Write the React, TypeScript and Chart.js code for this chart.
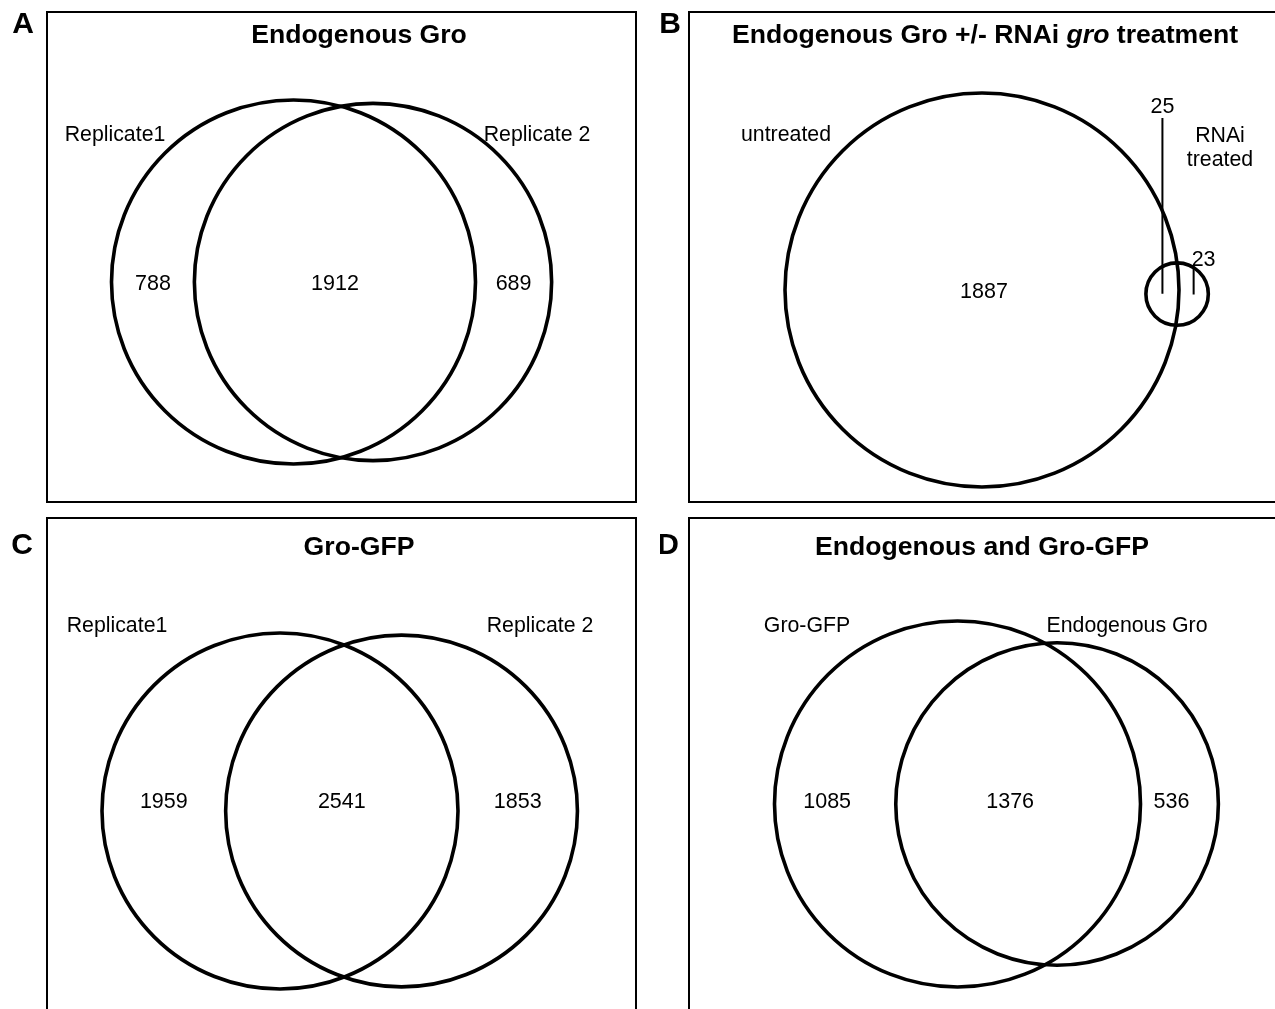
import React, { useEffect, useRef } from "react";
import { Chart, registerables } from "chart.js";

Chart.register(...registerables);

// ---------- data ----------
const panelLetters = ["A", "B", "C", "D"];
const titleA = [{ t: "Endogenous Gro", italic: false }];
const titleB = [
  { t: "Endogenous Gro +/- RNAi ", italic: false },
  { t: "gro", italic: true },
  { t: " treatment", italic: false },
];
const titleC = [{ t: "Gro-GFP", italic: false }];
const titleD = [{ t: "Endogenous and Gro-GFP", italic: false }];

// set names (left, right); "\n" splits lines
const setsA = ["Replicate1", "Replicate 2"];
const setsB = ["untreated", "RNAi\ntreated"];
const setsC = ["Replicate1", "Replicate 2"];
const setsD = ["Gro-GFP", "Endogenous Gro"];

// counts: [only left, overlap, only right]
const countsA = [788, 1912, 689];
const countsB = [1887, 25, 23];
const countsC = [1959, 2541, 1853];
const countsD = [1085, 1376, 536];

const titles = [titleA, titleB, titleC, titleD];
const setNames = [setsA, setsB, setsC, setsD];
const counts = [countsA, countsB, countsC, countsD];

// ---------- layout (page pixels) ----------
type Layout = {
  canvas: number[];
  box: number[];
  letter: number[];
  title: number[];
  anchor: number[];
  r1: number;
  angle: number;
  setLabels: number[][];
  leftAtCenter: boolean;
  labelDx: number;
  labelDy: number;
  leaders?: { overlapTop: number; overlapLabelY: number; rightTop: number; rightLabelY: number };
};

const layouts: Layout[] = [
  {
    canvas: [0, 0, 660, 512],
    box: [47, 12, 636, 502],
    letter: [23, 22],
    title: [359, 33],
    anchor: [293.5, 282],
    r1: 182,
    angle: 0,
    setLabels: [[115, 133], [537, 133]],
    leftAtCenter: false,
    labelDx: 0,
    labelDy: 0,
  },
  {
    canvas: [660, 0, 615, 512],
    box: [689, 12, 1320, 502],
    letter: [670, 22],
    title: [985, 33],
    anchor: [982, 290],
    r1: 197,
    angle: 1.2,
    setLabels: [[786, 133], [1220, 134]],
    leftAtCenter: true,
    labelDx: 2,
    labelDy: 0,
    leaders: { overlapTop: 118, overlapLabelY: 105, rightTop: 267, rightLabelY: 258 },
  },
  {
    canvas: [0, 512, 660, 497],
    box: [47, 518, 636, 1040],
    letter: [22, 543],
    title: [359, 545],
    anchor: [280, 811],
    r1: 178,
    angle: 0,
    setLabels: [[117, 624], [540, 624]],
    leftAtCenter: false,
    labelDx: 0,
    labelDy: -11,
  },
  {
    canvas: [660, 512, 615, 497],
    box: [689, 518, 1320, 1040],
    letter: [668, 543],
    title: [982, 545],
    anchor: [957.5, 804],
    r1: 183,
    angle: 0,
    setLabels: [[807, 624], [1127, 624]],
    leftAtCenter: false,
    labelDx: -8,
    labelDy: -4,
  },
];

const FONT = '"Liberation Sans", Arial, Helvetica, sans-serif';
const TITLE_SIZE = 26.6;
const LETTER_SIZE = 30;
const LABEL_SIZE = 21.3;
const NUM_SIZE = 21.5;

// ---------- geometry ----------
function lensArea(d: number, r1: number, r2: number) {
  if (d >= r1 + r2) return 0;
  if (d <= Math.abs(r1 - r2)) return Math.PI * Math.min(r1, r2) ** 2;
  const a = r1 * r1 * Math.acos((d * d + r1 * r1 - r2 * r2) / (2 * d * r1));
  const b = r2 * r2 * Math.acos((d * d + r2 * r2 - r1 * r1) / (2 * d * r2));
  const c = 0.5 * Math.sqrt((-d + r1 + r2) * (d + r1 - r2) * (d - r1 + r2) * (d + r1 + r2));
  return a + b - c;
}
function solveDistance(r1: number, r2: number, overlap: number) {
  let lo = Math.abs(r1 - r2) + 1e-9;
  let hi = r1 + r2;
  for (let i = 0; i < 200; i++) {
    const mid = (lo + hi) / 2;
    if (lensArea(mid, r1, r2) > overlap) lo = mid;
    else hi = mid;
  }
  return (lo + hi) / 2;
}

function drawText(
  ctx: CanvasRenderingContext2D,
  s: string,
  x: number,
  yc: number,
  size: number,
  bold: boolean,
  align: CanvasTextAlign = "center"
) {
  ctx.font = `${bold ? "bold " : ""}${size}px ${FONT}`;
  ctx.textAlign = align;
  ctx.textBaseline = "alphabetic";
  ctx.fillStyle = "#000";
  ctx.fillText(s, x, yc + size * 0.358);
}

function Panel({ idx }: { idx: number }) {
  const ref = useRef<HTMLCanvasElement>(null);
  const L = layouts[idx];
  const [ox, oy, cw, ch] = L.canvas;

  useEffect(() => {
    const c = counts[idx];
    const t1 = c[0] + c[1];
    const t2 = c[1] + c[2];
    const R1 = Math.sqrt(t1 / Math.PI);
    const R2 = Math.sqrt(t2 / Math.PI);
    const d = solveDistance(R1, R2, c[1]);
    const th = (L.angle * Math.PI) / 180;
    const k = L.r1 / R1; // pixels per unit, shared by both axes
    const circles = [
      { x: 0, y: 0, R: R1, r: R1 * k },
      { x: d * Math.cos(th), y: -d * Math.sin(th), R: R2, r: R2 * k },
    ];
    const ax = L.anchor[0] - ox;
    const ay = L.anchor[1] - oy;

    const decor = {
      id: "vennDecor" + idx,
      afterDraw(chart: any) {
        const ctx: CanvasRenderingContext2D = chart.ctx;
        const xs = chart.scales.x;
        const ys = chart.scales.y;
        const P = (x: number, y: number) => [xs.getPixelForValue(x), ys.getPixelForValue(y)];
        ctx.save();
        ctx.strokeStyle = "#000";
        ctx.lineWidth = 2;
        ctx.strokeRect(L.box[0] - ox, L.box[1] - oy, L.box[2] - L.box[0], L.box[3] - L.box[1]);
        drawText(ctx, panelLetters[idx], L.letter[0] - ox, L.letter[1] - oy, LETTER_SIZE, true);
        const segs = titles[idx];
        const fontOf = (it: boolean) => `${it ? "italic " : ""}bold ${TITLE_SIZE}px ${FONT}`;
        let total = 0;
        const widths = segs.map((sg) => {
          ctx.font = fontOf(sg.italic);
          const w = ctx.measureText(sg.t).width;
          total += w;
          return w;
        });
        let tx = L.title[0] - ox - total / 2;
        segs.forEach((sg, i) => {
          ctx.font = fontOf(sg.italic);
          ctx.textAlign = "left";
          ctx.textBaseline = "alphabetic";
          ctx.fillStyle = "#000";
          ctx.fillText(sg.t, tx, L.title[1] - oy + TITLE_SIZE * 0.358);
          tx += widths[i];
        });
        setNames[idx].forEach((nm, i) => {
          nm.split("\n").forEach((ln, j) => {
            drawText(ctx, ln, L.setLabels[i][0] - ox, L.setLabels[i][1] - oy + j * 24, LABEL_SIZE, false);
          });
        });
        const [c1, c2] = circles;
        const ux = (c2.x - c1.x) / d;
        const uy = (c2.y - c1.y) / d;
        const lL = [c1.x - c1.R * ux, c1.y - c1.R * uy];
        const lR = [c1.x + c1.R * ux, c1.y + c1.R * uy];
        const rL = [c2.x - c2.R * ux, c2.y - c2.R * uy];
        const rR = [c2.x + c2.R * ux, c2.y + c2.R * uy];
        const mid = (a: number[], b: number[]) => [(a[0] + b[0]) / 2, (a[1] + b[1]) / 2];
        const pLeft = L.leftAtCenter ? [c1.x, c1.y] : mid(lL, rL);
        const pOv = mid(rL, lR);
        const pRight = mid(lR, rR);
        const [plx, ply] = P(pLeft[0], pLeft[1]);
        drawText(ctx, String(c[0]), plx + L.labelDx, ply + L.labelDy, NUM_SIZE, false);
        const [pox, poy] = P(pOv[0], pOv[1]);
        const [prx, pry] = P(pRight[0], pRight[1]);
        if (L.leaders) {
          const ld = L.leaders;
          ctx.strokeStyle = "#000";
          ctx.lineWidth = 2;
          ctx.beginPath();
          ctx.moveTo(pox, poy);
          ctx.lineTo(pox, ld.overlapTop - oy);
          ctx.moveTo(prx, pry);
          ctx.lineTo(prx, ld.rightTop - oy);
          ctx.stroke();
          drawText(ctx, String(c[1]), pox, ld.overlapLabelY - oy, NUM_SIZE, false);
          drawText(ctx, String(c[2]), prx - 2, ld.rightLabelY - oy, NUM_SIZE, false, "left");
        } else {
          drawText(ctx, String(c[1]), pox + L.labelDx, poy + L.labelDy, NUM_SIZE, false);
          drawText(ctx, String(c[2]), prx + L.labelDx, pry + L.labelDy, NUM_SIZE, false);
        }
        ctx.restore();
      },
    };

    const chart = new Chart(ref.current as HTMLCanvasElement, {
      type: "bubble",
      data: {
        datasets: [
          {
            data: circles as any,
            backgroundColor: "rgba(0,0,0,0)",
            borderColor: "#000000",
            borderWidth: 3.6,
            hoverBorderWidth: 3.6,
            hoverRadius: 0,
            clip: false as any,
          } as any,
        ],
      },
      options: {
        animation: false,
        responsive: false,
        events: [],
        layout: { padding: 0, autoPadding: false } as any,
        plugins: { legend: { display: false }, tooltip: { enabled: false }, title: { display: false } },
        scales: {
          x: { type: "linear", display: false, min: -ax / k, max: (cw - ax) / k },
          y: { type: "linear", display: false, min: -(ch - ay) / k, max: ay / k },
        },
      },
      plugins: [decor],
    });
    return () => chart.destroy();
  }, []);

  return (
    <canvas
      ref={ref}
      width={cw}
      height={ch}
      style={{ position: "absolute", left: ox, top: oy, width: cw, height: ch }}
    />
  );
}

export default function App() {
  return (
    <div
      style={{
        position: "fixed",
        left: 0,
        top: 0,
        width: 1275,
        height: 1009,
        overflow: "hidden",
        background: "#fff",
      }}
    >
      {[0, 1, 2, 3].map((i) => (
        <Panel key={i} idx={i} />
      ))}
    </div>
  );
}
